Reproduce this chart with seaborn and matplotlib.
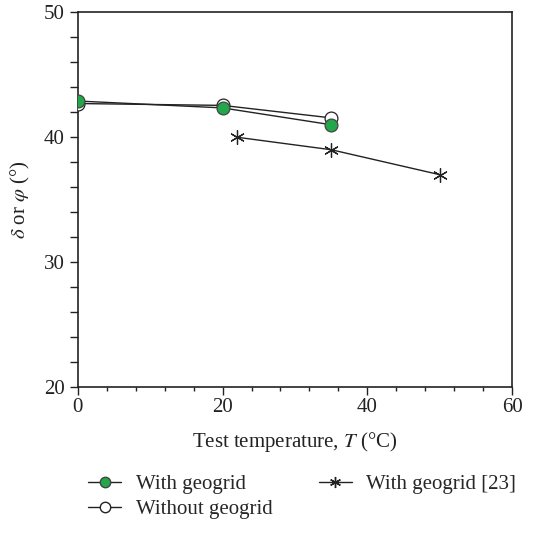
import matplotlib
matplotlib.use("Agg")
import matplotlib.pyplot as plt
import seaborn as sns
import pandas as pd
from matplotlib.ticker import MultipleLocator
from matplotlib.lines import Line2D

sns.set_theme(style="ticks")
plt.rcParams['font.family'] = ['Liberation Serif', 'DejaVu Serif']
plt.rcParams['mathtext.fontset'] = 'stix'

# Data
t_with = [0, 20, 35]
v_with = [42.9, 42.35, 41.0]
t_without = [0, 20, 35]
v_without = [42.7, 42.55, 41.55]
t_ref = [22, 35, 50]
v_ref = [40.0, 39.0, 37.0]
labels = ["With geogrid", "Without geogrid", "With geogrid [23]"]

df = pd.concat([
    pd.DataFrame({"T": t_with, "v": v_with, "s": labels[0]}),
    pd.DataFrame({"T": t_without, "v": v_without, "s": labels[1]}),
    pd.DataFrame({"T": t_ref, "v": v_ref, "s": labels[2]}),
])

fig = plt.figure(figsize=(5.45, 5.37), dpi=100)
ax = fig.add_axes([0.1425, 0.2793, 0.7975, 0.6977])

lc = "#222222"
green = "#22a84a"
star = (6, 2, 0)
# lines
for lab in labels:
    sub = df[df.s == lab]
    sns.lineplot(data=sub, x="T", y="v", ax=ax, color=lc, lw=1.0, legend=False, sort=False, zorder=2)

# markers
sub = df[df.s == labels[1]]
ax.scatter(sub["T"], sub["v"], s=85, facecolor="white", edgecolor=lc, linewidth=0.9, zorder=3)
sub = df[df.s == labels[0]]
ax.scatter(sub["T"], sub["v"], s=85, facecolor=green, edgecolor="#444444", linewidth=0.9, zorder=4)
sub = df[df.s == labels[2]]
ax.scatter(sub["T"], sub["v"], s=100, marker=star, color=lc, linewidth=0.9, zorder=3)

ax.set_xlim(0, 60)
ax.set_ylim(20, 50)
ax.xaxis.set_major_locator(MultipleLocator(20))
ax.xaxis.set_minor_locator(MultipleLocator(4))
ax.yaxis.set_major_locator(MultipleLocator(10))
ax.yaxis.set_minor_locator(MultipleLocator(2))
ax.tick_params(which="major", direction="out", length=5.5, width=1, colors="#222222", labelsize=15, pad=4)
ax.tick_params(axis="x", which="major", pad=2.5)
ax.tick_params(axis="x", which="minor", direction="out", length=3, width=1, colors="#222222")
ax.tick_params(axis="y", which="minor", direction="out", length=5.5, width=1, colors="#222222")
for sp in ax.spines.values():
    sp.set_visible(True)
    sp.set_color("#222222")
    sp.set_linewidth(1.2)

ax.set_xlabel("Test temperature, $\\mathit{T}$ (°C)", fontsize=15, color="#222222", labelpad=9)
ax.set_ylabel("$\\delta$ or $\\varphi$ (°)", fontsize=15, color="#222222", labelpad=8)

handles = [
    Line2D([], [], color=lc, lw=1.0, marker="o", markersize=7.5, markerfacecolor=green, markeredgecolor="#444444"),
    Line2D([], [], color=lc, lw=1.0, marker="o", markersize=7.5, markerfacecolor="white", markeredgecolor=lc),
    Line2D([], [], color=lc, lw=1.0, marker=star, markersize=8),
]
fig.legend(handles, labels, ncol=2, loc="upper left", bbox_to_anchor=(0.1615, 0.1157),
           frameon=False, fontsize=15, handlelength=1.6, columnspacing=2.2,
           labelspacing=0.26, handletextpad=0.7, borderpad=0, borderaxespad=0)

fig.savefig("out.png", dpi=100)
